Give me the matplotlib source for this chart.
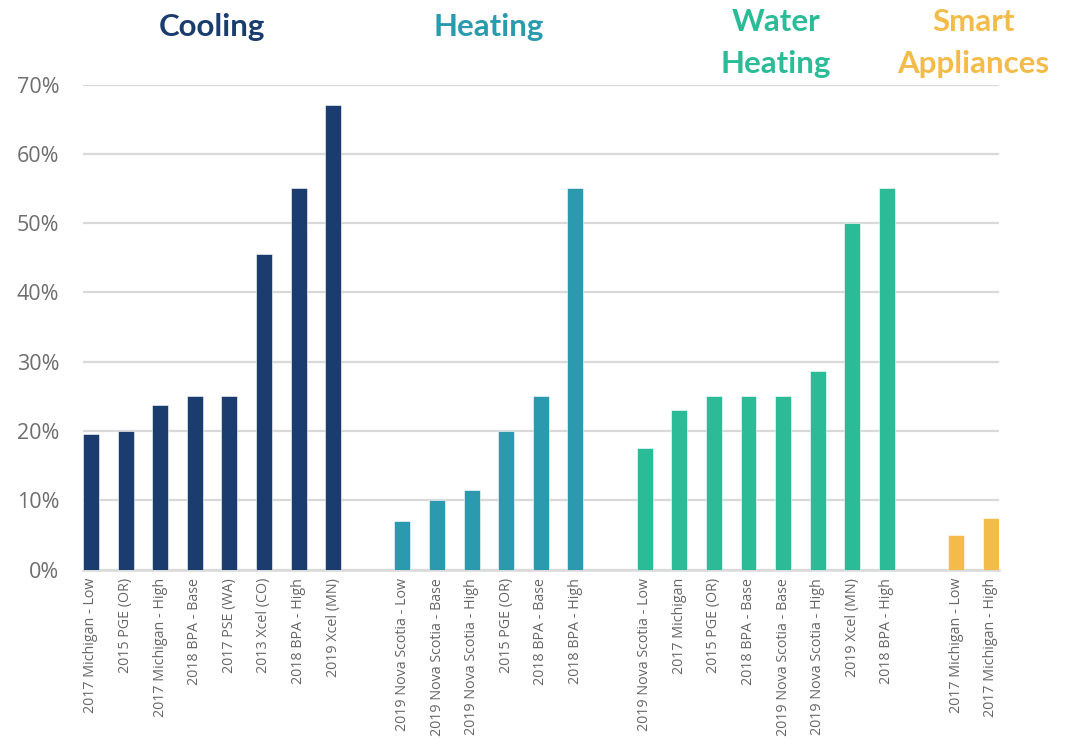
import matplotlib as mpl
mpl.use('Agg')
import matplotlib.pyplot as plt
import matplotlib.transforms as mtransforms
from matplotlib.ticker import PercentFormatter

# data (percent)
cooling_labels = ['2017 Michigan - Low', '2015 PGE (OR)', '2017 Michigan - High', '2018 BPA - Base',
                  '2017 PSE (WA)', '2013 Xcel (CO)', '2018 BPA - High', '2019 Xcel (MN)']
cooling_values = [19.5, 20, 23.8, 25, 25, 45.5, 55, 67]

heating_labels = ['2019 Nova Scotia - Low', '2019 Nova Scotia - Base', '2019 Nova Scotia - High',
                  '2015 PGE (OR)', '2018 BPA - Base', '2018 BPA - High']
heating_values = [7, 10, 11.5, 20, 25, 55]

water_labels = ['2019 Nova Scotia - Low', '2017 Michigan', '2015 PGE (OR)', '2018 BPA - Base',
                '2019 Nova Scotia - Base', '2019 Nova Scotia - High', '2019 Xcel (MN)', '2018 BPA - High']
water_values = [17.5, 23, 25, 25, 25, 28.7, 50, 55]

smart_labels = ['2017 Michigan - Low', '2017 Michigan - High']
smart_values = [5, 7.5]

groups = [
    ('Cooling', cooling_labels, cooling_values, '#1A3C6E'),
    ('Heating', heating_labels, heating_values, '#2B9AAE'),
    ('Water\nHeating', water_labels, water_values, '#2BBB97'),
    ('Smart\nAppliances', smart_labels, smart_values, '#F3BB4A'),
]

fig = plt.figure(figsize=(10.69, 7.44), dpi=100)
ax = fig.add_axes([83 / 1069, 1 - 569.5 / 744, (998.7 - 83) / 1069, (569.5 - 84.5) / 744])

trans = mtransforms.blended_transform_factory(ax.transData, fig.transFigure)
ticks, ticklabels = [], []
pos = 0
for name, labels, values, color in groups:
    xs = list(range(pos, pos + len(values)))
    ax.bar(xs, values, width=0.46, color=color, edgecolor='white', linewidth=0.4, zorder=3)
    ticks += xs
    ticklabels += labels
    cx = (xs[0] + xs[-1]) / 2
    if '\n' in name:
        if name.startswith('Water'):
            cx += 0.3
        ax.text(cx, 1 - 43 / 744, name, transform=trans, ha='center', va='center',
                fontsize=22.5, fontweight='bold', color=color, family='Lato', linespacing=1.6)
    else:
        ax.text(cx, 1 - 27 / 744, name, transform=trans, ha='center', va='center',
                fontsize=22.5, fontweight='bold', color=color, family='Lato')
    pos += len(values) + 1

ax.set_xlim(-0.23, 26.23)
ax.set_ylim(0, 70)
ax.set_yticks(range(0, 71, 10))
ax.yaxis.set_major_formatter(PercentFormatter(decimals=0))
ax.set_xticks(ticks)
ax.set_xticklabels(ticklabels, rotation=90, fontsize=10.3, color='#666666', family='Open Sans')
for lab in ax.get_yticklabels():
    lab.set_family('Open Sans')
    lab.set_fontsize(15.5)
    lab.set_color('#6E6E6E')

ax.grid(axis='y', color='#D9D9D9', linewidth=1.6, zorder=0)
for s in ['top', 'right', 'left']:
    ax.spines[s].set_visible(False)
ax.spines['bottom'].set_color('#D9D9D9')
ax.spines['bottom'].set_linewidth(1.8)
ax.tick_params(axis='both', length=0)
ax.tick_params(axis='y', pad=17)
ax.tick_params(axis='x', pad=6)

fig.savefig('out.png', dpi=100)
